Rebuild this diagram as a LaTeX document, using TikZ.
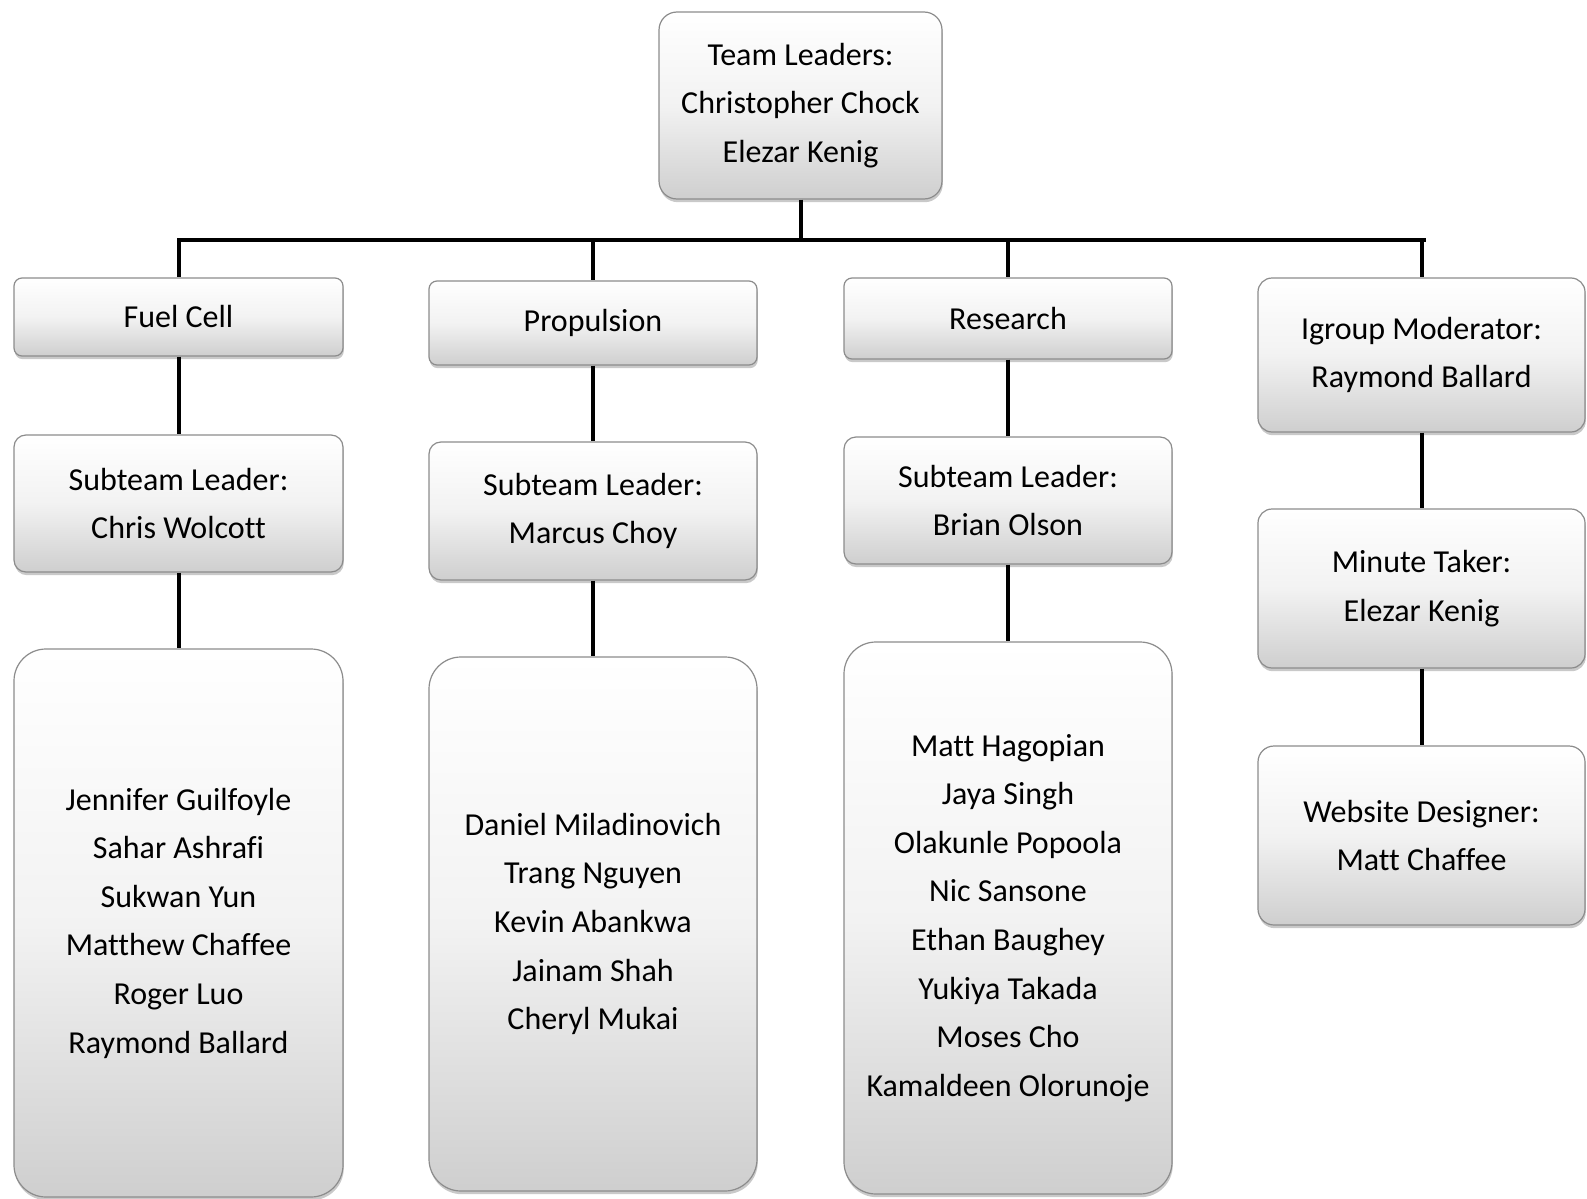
\documentclass[tikz,border=0pt]{standalone}
\usepackage{fontspec}
\setmainfont{Carlito}[Ligatures={NoCommon}]
\usetikzlibrary{shadows}
\begin{document}
\begin{tikzpicture}[x=0.5pt,y=-0.5pt,
  orgbox/.style={draw=black!45, line width=0.6pt, top color=white, bottom color=black!19, middle color=black!5,
     align=center, inner sep=0pt, font=\fontsize{16pt}{24.3pt}\selectfont, text=black,
     drop shadow={opacity=0.3, shadow xshift=0.4pt, shadow yshift=-1.6pt, fill=black!70}},
  conn/.style={line width=2pt, line cap=butt}]
\useasboundingbox (0,0) rectangle (1587,1199);
\node[orgbox, rounded corners=9pt, minimum width=141.5pt, minimum height=93.5pt] (top) at (800.5,105.5) {Team Leaders:\\Christopher Chock\\Elezar Kenig};
% row 1
\node[orgbox, rounded corners=4pt, minimum width=164.5pt, minimum height=39pt] (fuel) at (178.5,317) {Fuel Cell};
\node[orgbox, rounded corners=4pt, minimum width=164pt, minimum height=42pt] (prop) at (593,323) {Propulsion};
\node[orgbox, rounded corners=4pt, minimum width=164pt, minimum height=40.5pt] (res) at (1008,318.5) {Research};
\node[orgbox, rounded corners=7pt, minimum width=163.5pt, minimum height=77pt] (igr) at (1421.5,355) {Igroup Moderator:\\Raymond Ballard};
% row 2
\node[orgbox, rounded corners=6pt, minimum width=164.5pt, minimum height=68.5pt] (fsub) at (178.5,503.5) {Subteam Leader:\\Chris Wolcott};
\node[orgbox, rounded corners=6pt, minimum width=164pt, minimum height=69pt] (psub) at (593,511) {Subteam Leader:\\Marcus Choy};
\node[orgbox, rounded corners=6pt, minimum width=164pt, minimum height=63.5pt] (rsub) at (1008,500.5) {Subteam Leader:\\Brian Olson};
\node[orgbox, rounded corners=7pt, minimum width=163.5pt, minimum height=79.5pt] (mint) at (1421.5,588.5) {Minute Taker:\\Elezar Kenig};
% row 3
\node[orgbox, rounded corners=16pt, minimum width=164.5pt, minimum height=274pt] (flist) at (178.5,923) {Jennifer Guilfoyle\\Sahar Ashrafi\\Sukwan Yun\\Matthew Chaffee\\Roger Luo\\Raymond Ballard};
\node[orgbox, rounded corners=16pt, minimum width=164pt, minimum height=267pt] (plist) at (593,924) {Daniel Miladinovich\\Trang Nguyen\\Kevin Abankwa\\Jainam Shah\\Cheryl Mukai};
\node[orgbox, rounded corners=16pt, minimum width=164pt, minimum height=276pt] (rlist) at (1008,918) {Matt Hagopian\\Jaya Singh\\Olakunle Popoola\\Nic Sansone\\Ethan Baughey\\Yukiya Takada\\Moses Cho\\Kamaldeen Olorunoje};
\node[orgbox, rounded corners=8pt, minimum width=163.5pt, minimum height=89.5pt] (web) at (1421.5,835.5) {Website Designer:\\Matt Chaffee};
% connectors
\coordinate (busL) at (179,240);
\coordinate (busR) at (1424,240);
\draw[conn] (top.south) -- (top.south |- busL);
\draw[conn] ([xshift=-1pt]busL) -- ([xshift=1pt]busR);
\draw[conn] (fuel.north |- busL) -- (fuel.north);
\draw[conn] (prop.north |- busL) -- (prop.north);
\draw[conn] (res.north |- busL) -- (res.north);
\draw[conn] (igr.north |- busL) -- (igr.north);
\draw[conn] (fuel.south) -- (fsub.north);
\draw[conn] (prop.south) -- (psub.north);
\draw[conn] (res.south) -- (rsub.north);
\draw[conn] (igr.south) -- (mint.north);
\draw[conn] (fsub.south) -- (flist.north);
\draw[conn] (psub.south) -- (plist.north);
\draw[conn] (rsub.south) -- (rlist.north);
\draw[conn] (mint.south) -- (web.north);
\end{tikzpicture}
\end{document}
